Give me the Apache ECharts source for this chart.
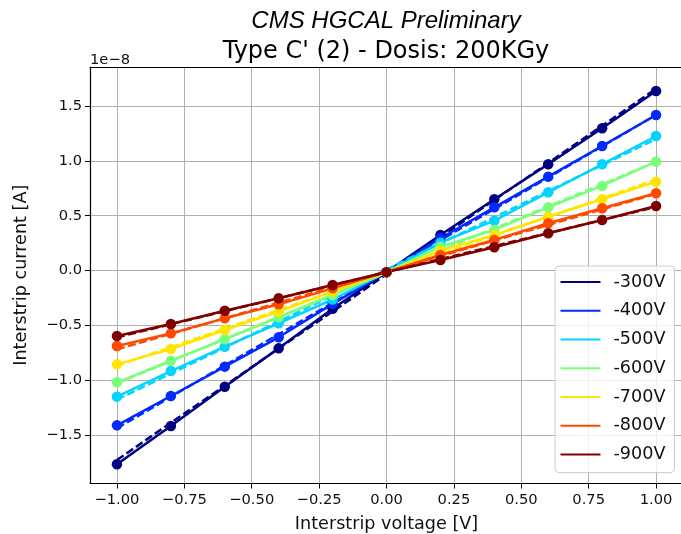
<!DOCTYPE html>
<html><head><meta charset="utf-8">
<script src="https://cdn.jsdelivr.net/npm/echarts@6/dist/echarts.min.js"></script>
<style>html,body{margin:0;padding:0;background:#fff;overflow:hidden}#c{width:681px;height:534px}</style>
</head><body><div id="c"></div>
<script>
// ---- data (currents in units of 1e-8 A) ----
const voltages = [-1.0, -0.8, -0.6, -0.4, -0.2, 0.0, 0.2, 0.4, 0.6, 0.8, 1.0];
const seriesNames = ['-300V', '-400V', '-500V', '-600V', '-700V', '-800V', '-900V'];
const i300 = [-1.770, -1.420, -1.061, -0.711, -0.350, -0.015, 0.324, 0.650, 0.970, 1.299, 1.639];
const i400 = [-1.414, -1.146, -0.878, -0.610, -0.305, -0.015, 0.294, 0.577, 0.857, 1.137, 1.420];
const i500 = [-1.152, -0.918, -0.696, -0.482, -0.265, -0.015, 0.254, 0.455, 0.714, 0.970, 1.228];
const i600 = [-1.021, -0.824, -0.628, -0.427, -0.224, -0.015, 0.217, 0.370, 0.577, 0.772, 0.994];
const i700 = [-0.857, -0.717, -0.543, -0.376, -0.193, -0.015, 0.181, 0.324, 0.491, 0.650, 0.811];
const i800 = [-0.689, -0.574, -0.437, -0.309, -0.163, -0.015, 0.142, 0.279, 0.431, 0.568, 0.705];
const i900 = [-0.598, -0.489, -0.367, -0.254, -0.132, -0.015, 0.096, 0.212, 0.340, 0.461, 0.589];
// linear-fit (dashed) lines: values at the two end voltages
const fitVoltages = [-1.0, 1.0];
const fit300 = [-1.73, 1.66];
const fit400 = [-1.44, 1.42];
const fit500 = [-1.18, 1.20];
const fit600 = [-1.03, 0.99];
const fit700 = [-0.87, 0.83];
const fit800 = [-0.72, 0.70];
const fit900 = [-0.61, 0.58];
const xTicks = [-1.0, -0.75, -0.5, -0.25, 0.0, 0.25, 0.5, 0.75, 1.0];
const yTicks = [-1.5, -1.0, -0.5, 0.0, 0.5, 1.0, 1.5];

// ---- styles ----
const colors = ['#000080', '#002aff', '#00d4ff', '#7bff7b', '#ffe600', '#ff4800', '#800000'];
const curves = [i300, i400, i500, i600, i700, i800, i900];
const fits = [fit300, fit400, fit500, fit600, fit700, fit800, fit900];
const FONT = 'DejaVu Sans';
const fmt = (v, d) => (v < 0 ? '\u2212' : '') + Math.abs(v).toFixed(d);

const series = [];
seriesNames.forEach((n, k) => {
  series.push({
    name: n, type: 'line',
    data: voltages.map((x, j) => [x, curves[k][j]]),
    symbol: 'circle', symbolSize: 10.5, clip: false,
    lineStyle: { width: 2.5, color: colors[k] },
    itemStyle: { color: colors[k] },
    emphasis: { disabled: true }
  });
  series.push({
    name: n + ' fit', type: 'line',
    data: fitVoltages.map((x, j) => [x, fits[k][j]]),
    symbol: 'none', clip: false,
    lineStyle: { width: 2.5, type: [8, 3.5], color: colors[k] },
    emphasis: { disabled: true }
  });
});

const chart = echarts.init(document.getElementById('c'), null, { renderer: 'canvas' });
chart.setOption({
  animation: false,
  backgroundColor: '#fff',
  title: [
    { text: 'CMS HGCAL Preliminary', left: 386, top: 9, textAlign: 'center', padding: 0,
      textStyle: { fontFamily: 'Liberation Sans', fontStyle: 'italic', fontWeight: 'normal', fontSize: 24, color: '#000' } },
    { text: "Type C' (2) - Dosis: 200KGy", left: 386, top: 40, textAlign: 'center', padding: 0,
      textStyle: { fontFamily: FONT, fontWeight: 'normal', fontSize: 24, color: '#000' } },
    { text: '1e\u22128', left: 90, top: 53, padding: 0,
      textStyle: { fontFamily: FONT, fontWeight: 'normal', fontSize: 14.7, color: '#111' } }
  ],
  grid: { left: 90, top: 67, width: 593, height: 416.5, show: false,
          containLabel: false, outerBoundsMode: 'none' },
  xAxis: [{
    type: 'value', min: -1.1, max: 1.1,
    name: 'Interstrip voltage [V]', nameLocation: 'middle', nameGap: 32,
    nameTextStyle: { fontFamily: FONT, fontSize: 17.6, color: '#111' },
    axisLine: { show: true, onZero: false, lineStyle: { color: '#000', width: 1 } },
    axisTick: { show: true, inside: false, length: 5, customValues: xTicks, lineStyle: { color: '#000', width: 1 } },
    axisLabel: { customValues: xTicks, margin: 9, fontFamily: FONT, fontSize: 14.7, color: '#111', formatter: v => fmt(v, 2) },
    splitLine: { show: true, lineStyle: { color: '#b0b0b0', width: 1 } }
  }, {
    type: 'value', position: 'top', min: -1.1, max: 1.1,
    axisLine: { show: true, onZero: false, lineStyle: { color: '#000', width: 1.2 } },
    axisTick: { show: false }, axisLabel: { show: false }, splitLine: { show: false }
  }],
  yAxis: {
    type: 'value', min: -1.945, max: 1.858,
    name: 'Interstrip current [A]', nameLocation: 'middle', nameGap: 60, nameRotate: 90,
    nameTextStyle: { fontFamily: FONT, fontSize: 17.6, color: '#111' },
    axisLine: { show: true, onZero: false, lineStyle: { color: '#000', width: 1.2 } },
    axisTick: { show: true, inside: false, length: 5, customValues: yTicks, lineStyle: { color: '#000', width: 1 } },
    axisLabel: { customValues: yTicks, margin: 8, fontFamily: FONT, fontSize: 14.7, color: '#111', formatter: v => fmt(v, 1) },
    splitLine: { show: true, lineStyle: { color: '#b0b0b0', width: 1 } }
  },
  legend: {
    data: seriesNames, orient: 'vertical', left: 555, top: 266,
    itemWidth: 40, itemHeight: 18, itemGap: 10.77,
    padding: [7, 9, 9, 4.5],
    backgroundColor: 'rgba(255,255,255,0.8)', borderColor: '#cccccc', borderWidth: 1, borderRadius: 4,
    itemStyle: { opacity: 0 },
    textStyle: { fontFamily: FONT, fontSize: 17.6, color: '#111', padding: [0, 0, 0, 8], lineHeight: 18 },
    selectedMode: false
  },
  series: series
});
</script>
</body></html>
